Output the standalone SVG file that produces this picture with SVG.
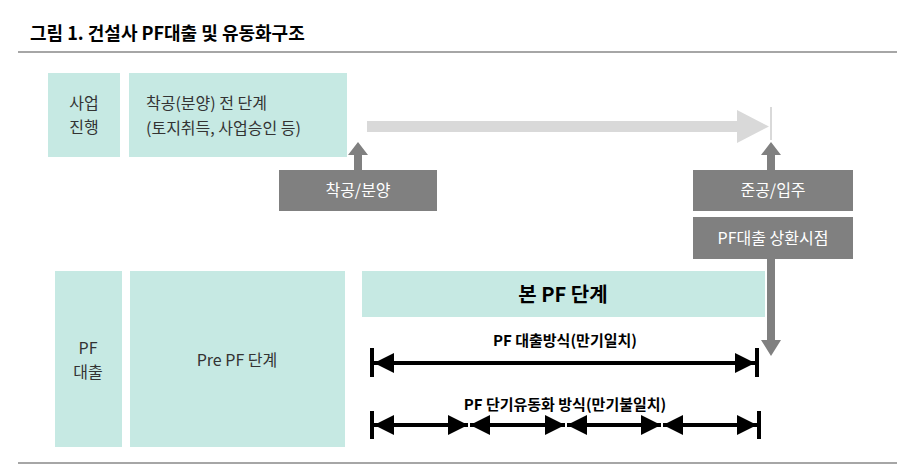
<svg xmlns="http://www.w3.org/2000/svg" width="915" height="468" viewBox="0 0 915 468">
<style>
text{font-family:"Noto Sans CJK KR","Noto Sans",sans-serif;}
.t{fill:#c6e9e3}
.d{fill:#808080}
.lt{font-size:16px;fill:#333}
.wt{font-size:16px;fill:#fff}
.bk{stroke:#000;stroke-width:4;fill:none}
.tk{stroke:#000;stroke-width:4}
</style>
<defs>
<marker id="ah" markerWidth="5" markerHeight="5" refX="5" refY="2.5" orient="auto-start-reverse" markerUnits="strokeWidth"><path d="M0,0L5,2.5L0,5z" fill="#000"/></marker>
</defs>
<rect width="915" height="468" fill="#fff"/>
<text x="30" y="40" font-size="18" font-weight="bold" fill="#000">그림 1. 건설사 PF대출 및 유동화구조</text>
<line x1="18" y1="52" x2="897" y2="52" stroke="#888" stroke-width="1.5"/>
<line x1="18" y1="463" x2="897" y2="463" stroke="#888" stroke-width="1.5"/>
<g id="n1"><rect class="t" x="48" y="73" width="72" height="84"/><text class="lt" x="84" y="109" text-anchor="middle">사업</text><text class="lt" x="84" y="133" text-anchor="middle">진행</text></g>
<g id="n2"><rect class="t" x="129" y="73" width="218" height="84"/><text class="lt" x="146" y="109">착공(분양) 전 단계</text><text class="lt" x="146" y="134">(토지취득, 사업승인 등)</text></g>
<g id="n3"><rect class="d" x="279" y="170" width="158" height="41"/><text class="wt" x="358" y="196" text-anchor="middle">착공/분양</text></g>
<g id="n4"><rect class="d" x="693" y="170" width="160" height="41"/><text class="wt" x="773" y="196" text-anchor="middle">준공/입주</text></g>
<g id="n5"><rect class="d" x="693" y="217" width="160" height="42"/><text class="wt" x="773" y="244" text-anchor="middle">PF대출 상환시점</text></g>
<g id="n6"><rect class="t" x="55" y="271" width="67" height="176"/><text class="lt" x="88" y="354" text-anchor="middle">PF</text><text class="lt" x="88" y="378" text-anchor="middle">대출</text></g>
<g id="n7"><rect class="t" x="130" y="271" width="215" height="176"/><text class="lt" x="237" y="366" text-anchor="middle">Pre PF 단계</text></g>
<g id="n8"><rect class="t" x="362" y="271" width="403" height="46"/><text x="563" y="302" font-size="20" font-weight="bold" fill="#000" text-anchor="middle">본 PF 단계</text></g>
<g id="connectors">
<path d="M367,121H737V110L769,126.5L737,143V132H367z" fill="#d9d9d9"/>
<line x1="771" y1="107" x2="771" y2="140" stroke="#d9d9d9" stroke-width="2"/>
<path d="M354,170V155H348L358,142L368,155H362V170z" fill="#808080"/>
<path d="M767,170V155H761L771,142L781,155H775V170z" fill="#808080"/>
<path d="M767,259V340H761L771,356L781,340H775V259z" fill="#808080"/>
<text x="565" y="346" font-size="15" font-weight="bold" text-anchor="middle" fill="#000">PF 대출방식(만기일치)</text>
<line class="bk" x1="374" y1="363" x2="755" y2="363" marker-start="url(#ah)" marker-end="url(#ah)"/>
<line class="tk" x1="372" y1="348" x2="372" y2="377"/><line class="tk" x1="757" y1="348" x2="757" y2="377"/>
<text x="565" y="410" font-size="15" font-weight="bold" text-anchor="middle" fill="#000">PF 단기유동화 방식(만기불일치)</text>
<line class="bk" x1="374" y1="425" x2="468" y2="425" marker-start="url(#ah)" marker-end="url(#ah)"/>
<line class="bk" x1="470" y1="425" x2="565" y2="425" marker-start="url(#ah)" marker-end="url(#ah)"/>
<line class="bk" x1="567" y1="425" x2="661" y2="425" marker-start="url(#ah)" marker-end="url(#ah)"/>
<line class="bk" x1="663" y1="425" x2="757" y2="425" marker-start="url(#ah)" marker-end="url(#ah)"/>
<line class="tk" x1="372" y1="411" x2="372" y2="439"/><line class="tk" x1="759" y1="411" x2="759" y2="439"/>
</g>
</svg>
